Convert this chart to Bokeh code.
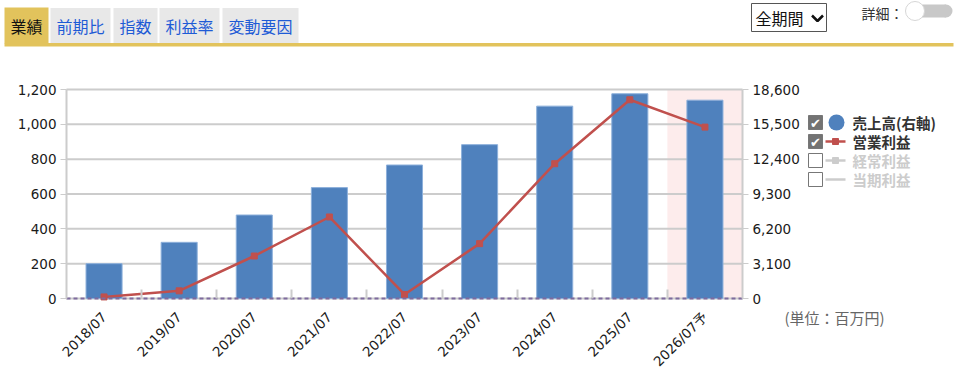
from bokeh.plotting import figure
from bokeh.models import (Range1d, LinearAxis, FixedTicker, NumeralTickFormatter,
                          ColumnDataSource)
from bokeh.core.properties import value
from bokeh.embed import file_html
from bokeh.resources import INLINE
import math

# ---- data ----
categories = ["2018/07", "2019/07", "2020/07", "2021/07", "2022/07",
              "2023/07", "2024/07", "2025/07", "2026/07予"]
sales = [3100, 5000, 7430, 9870, 11880, 13690, 17120, 18220, 17650]      # 売上高 (right axis)
op_profit = [9, 44, 244, 468, 23, 315, 774, 1141, 984]                   # 営業利益 (left axis)
forecast_index = 8
left_ticks = [0, 200, 400, 600, 800, 1000, 1200]
right_ticks = [0, 3100, 6200, 9300, 12400, 15500, 18600]
tabs = ["業績", "前期比", "指数", "利益率", "変動要因"]
legend_labels = ["売上高(右軸)", "営業利益", "経常利益", "当期利益"]
unit_note = "(単位：百万円)"

# ---- layout constants (pixels) ----
W, H = 957, 377
FL, FR, FT, FB = 66, 742, 89, 298          # chart area
NUM = "DejaVu Sans, 'Noto Sans CJK JP'"
JP = "'Noto Sans CJK JP', sans-serif"

n = len(categories)
CW = (FR - FL) / n
x0 = -0.5 - FL / CW
lpp = left_ticks[-1] / (FB - FT)
rpp = right_ticks[-1] / (FB - FT)

xs = list(range(n))
src = ColumnDataSource(dict(x=xs, sales=sales, op=op_profit))

p = figure(width=W, height=H, output_backend="svg", toolbar_location=None,
           x_range=Range1d(x0, x0 + W / CW),
           y_range=Range1d(-(H - FB) * lpp, FB * lpp),
           x_axis_location=None, y_axis_location=None,
           min_border=0, outline_line_color=None,
           background_fill_color="white", border_fill_color="white")
p.extra_y_ranges = {"sales": Range1d(-(H - FB) * rpp, FB * rpp), "py": Range1d(H, 0)}
p.extra_x_ranges = {"px": Range1d(0, W)}
p.grid.visible = False

# forecast band (full height of the chart)
p.quad(left=[forecast_index - 0.5], right=[forecast_index + 0.5],
       bottom=[0], top=[left_ticks[-1]], fill_color="#FDECEC", line_color=None)

# horizontal grid lines at left ticks
p.segment(x0=[-0.5] * len(left_ticks), x1=[n - 0.5] * len(left_ticks),
          y0=left_ticks, y1=left_ticks, line_color="#cccccc", line_width=2)

# bars (right axis) and line (left axis)
p.vbar(x="x", top="sales", width=0.48, source=src, y_range_name="sales",
       fill_color="#4F81BD", line_color="#8DB0DB", line_width=1)
p.line(x="x", y="op", source=src, line_color="#C0504D", line_width=2.5)
p.scatter(x="x", y="op", source=src, marker="square", size=6,
          fill_color="#C0504D", line_color="#C0504D")

# dashed baseline
p.segment(x0=[-0.5], x1=[n - 0.5], y0=[0], y1=[0], line_color="#7E6B9E",
          line_width=2, line_dash="4 3")

# ---- axes ----
def style_y(ax):
    ax.axis_line_color = "#cccccc"
    ax.axis_line_width = 2
    ax.major_tick_line_color = "#cccccc"
    ax.major_tick_out = 6
    ax.major_tick_in = 0
    ax.minor_tick_line_color = None
    ax.major_label_text_font = NUM
    ax.major_label_text_font_size = "13.5px"
    ax.major_label_text_color = "#1a1a1a"
    ax.major_label_standoff = 4

ya = LinearAxis(fixed_location=-0.5, bounds=(0, left_ticks[-1]),
                ticker=FixedTicker(ticks=left_ticks),
                formatter=NumeralTickFormatter(format="0,0"))
style_y(ya)
p.add_layout(ya, "left")

ra = LinearAxis(y_range_name="sales", fixed_location=n - 0.5, bounds=(0, right_ticks[-1]),
                ticker=FixedTicker(ticks=right_ticks),
                formatter=NumeralTickFormatter(format="0,0"))
style_y(ra)
p.add_layout(ra, "right")

xa = LinearAxis(fixed_location=0, bounds=(-0.5, n - 0.5),
                ticker=FixedTicker(ticks=xs, minor_ticks=[i + 0.5 for i in xs[:-1]]))
xa.major_label_overrides = {i: c for i, c in zip(xs, categories)}
xa.axis_line_color = None
xa.major_tick_line_color = None
xa.minor_tick_line_color = "#cccccc"
xa.minor_tick_line_width = 2
xa.minor_tick_in = 9
xa.minor_tick_out = 0
xa.major_label_orientation = math.pi / 4
xa.major_label_text_font = NUM
xa.major_label_text_font_size = "13.5px"
xa.major_label_text_color = "#1a1a1a"
xa.major_label_standoff = 10
p.add_layout(xa, "below")

# ---- page chrome, drawn in pixel coordinates ----
PX = dict(x_range_name="px", y_range_name="py")

def box(l, r, t, b, **kw):
    p.quad(left=[l], right=[r], top=[t], bottom=[b], **PX, **kw)

def txt(x, y, s, size, color, align="left", bold=False, font=JP):
    p.text(x=[x], y=[y], text=[s], text_font=value(font), text_font_size=value(size),
           text_color=color, text_align=align, text_baseline="middle",
           text_font_style="bold" if bold else "normal", **PX)

# tabs
tab_x = [(4, 48), (50, 110), (113, 157), (159, 219), (222, 298)]
for i, (name, (l, r)) in enumerate(zip(tabs, tab_x)):
    active = i == 0
    box(l, r, 7 if active else 7.5, 43, fill_color="#E2C35C" if active else "#E8E8E8",
        line_color=None)
    txt((l + r) / 2, 25, name, "16px", "#111111" if active else "#1E5BD6", align="center")
box(4, 953, 42.5, 46, fill_color="#E2C35C", line_color=None)

# period select
box(751, 826, 3, 31, fill_color="white", line_color="#555555", line_width=1)
txt(755, 17, "全期間", "16px", "#111111")
p.line(x=[811.5, 817, 822.5], y=[15, 20.5, 15], line_color="#111111", line_width=2.5, **PX)

# detail toggle
txt(861, 12, "詳細：", "14px", "#333333")
p.scatter(x=[914, 945.5], y=[10.5, 10.5], marker="circle", size=13,
          fill_color="#C8C8C8", line_color=None, **PX)
box(914, 945.5, 4, 17, fill_color="#C8C8C8", line_color=None)
p.scatter(x=[914.5], y=[10.5], marker="circle", size=19, fill_color="white",
          line_color="#d6d6d6", line_width=1, **PX)

# legend
ly = [122, 141, 160, 179]
for i, (lab, y) in enumerate(zip(legend_labels, ly)):
    checked = i < 2
    box(808, 822, y - 7, y + 7, fill_color="#737373" if checked else "white",
        line_color="#777777", line_width=1)
    if checked:
        txt(815, y + 0.5, "✔", "13px", "white", align="center", font="DejaVu Sans")
    txt(852, y, lab, "14.5px", "#333333" if checked else "#cccccc", bold=True)
p.scatter(x=[836], y=[ly[0]], marker="circle", size=16, fill_color="#4F81BD",
          line_color=None, **PX)
for i, col in [(1, "#C0504D"), (2, "#cccccc"), (3, "#cccccc")]:
    y = ly[i]
    p.segment(x0=[825], x1=[845], y0=[y], y1=[y], line_color=col, line_width=2.5, **PX)
    if i < 3:
        p.scatter(x=[835], y=[y], marker="square", size=6, fill_color=col,
                  line_color=col, **PX)

# unit note
txt(784, 317, unit_note, "15px", "#666666")

open("out.html", "w").write(file_html(p, INLINE))
